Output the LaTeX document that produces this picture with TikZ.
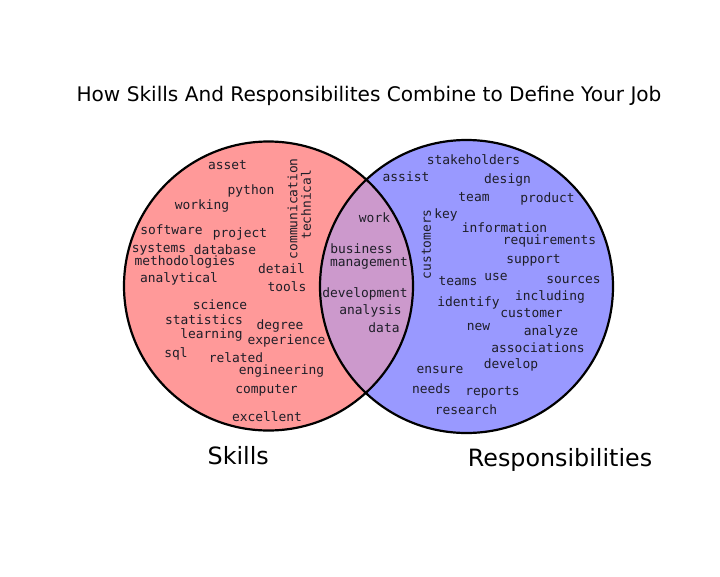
\documentclass[tikz,border=0pt]{standalone}
\usepackage{fontspec}
\setmainfont{DejaVu Sans}
\newfontfamily\cloudfont{DejaVu Sans Mono}
\definecolor{skillRed}{RGB}{255,153,153}
\definecolor{respBlue}{RGB}{153,153,255}
\definecolor{overlapPurple}{RGB}{204,153,204}
\definecolor{wordGray}{RGB}{30,30,40}

\begin{document}
\begin{tikzpicture}[x=1pt, y=-1pt,
    word/.style={font=\cloudfont\fontsize{12.9}{14}\selectfont, text=wordGray,
                 inner sep=0pt, text height=9.4pt, text depth=2.6pt, yshift=-1.8pt},
    setlabel/.style={font=\fontsize{23.8}{28}\selectfont, anchor=base}]
    \useasboundingbox (0,0) rectangle (720,576);

    % circles
    \coordinate (cS) at (268.5,286);
    \coordinate (cR) at (466.5,286.5);
    \fill[skillRed] (cS) circle (144.5);
    \fill[respBlue] (cR) circle (146.5);
    \begin{scope}
        \clip (cS) circle (144.5);
        \fill[overlapPurple] (cR) circle (146.5);
    \end{scope}
    \draw[black, line width=2.2pt] (cS) circle (144.5);
    \draw[black, line width=2.2pt] (cR) circle (146.5);

    % title and set labels
    \node[anchor=base, font=\fontsize{20.1}{24}\selectfont] (title) at (369,101.5)
        {How Skills And Responsibilites Combine to Define Your Job};
    \node[setlabel] (skills) at (238.3,464) {Skills};
    \node[setlabel] (resp) at (560,466.7) {Responsibilities};

    % skills only
    \foreach \t/\x/\y in {asset/227.5/164, python/251/189, working/202/204,
        software/171.5/229, project/240/232, systems/159/247, database/225/249,
        methodologies/185/260, analytical/179/277, detail/281.5/268, tools/287/286,
        science/220/304, statistics/204/319, learning/211.5/333, degree/280/324,
        experience/286.5/339, sql/176/352, related/236/357, engineering/281.5/369,
        computer/266.5/388, excellent/267/416}
        \node[word] (w-\t) at (\x,\y) {\t};
    \node[word, rotate=90] (w-communication) at (294,207) {communication};
    \node[word, rotate=90] (w-technical) at (307.5,203) {technical};

    % both
    \foreach \t/\x/\y in {work/374.5/217, business/361.5/248.3, management/369/261.5,
        development/365/292, analysis/370.5/309, data/384/327}
        \node[word] (w-\t) at (\x,\y) {\t};

    % responsibilities only
    \foreach \t/\x/\y in {stakeholders/473.5/159, assist/406/176, design/507.5/178,
        team/474/196, product/547.5/197, key/446/213, information/504.5/227,
        requirements/549.5/239, support/533.5/258, teams/458/280, use/496/275,
        sources/573.5/278, identify/468.5/301, including/550/295, customer/531.5/312,
        new/478.5/325, analyze/551/330, associations/538/347, develop/511/363,
        ensure/440/368, needs/431.5/388, reports/492.5/390, research/466/409}
        \node[word] (w-\t) at (\x,\y) {\t};
    \node[word, rotate=90] (w-customers) at (427.5,242.5) {customers};
\end{tikzpicture}
\end{document}
